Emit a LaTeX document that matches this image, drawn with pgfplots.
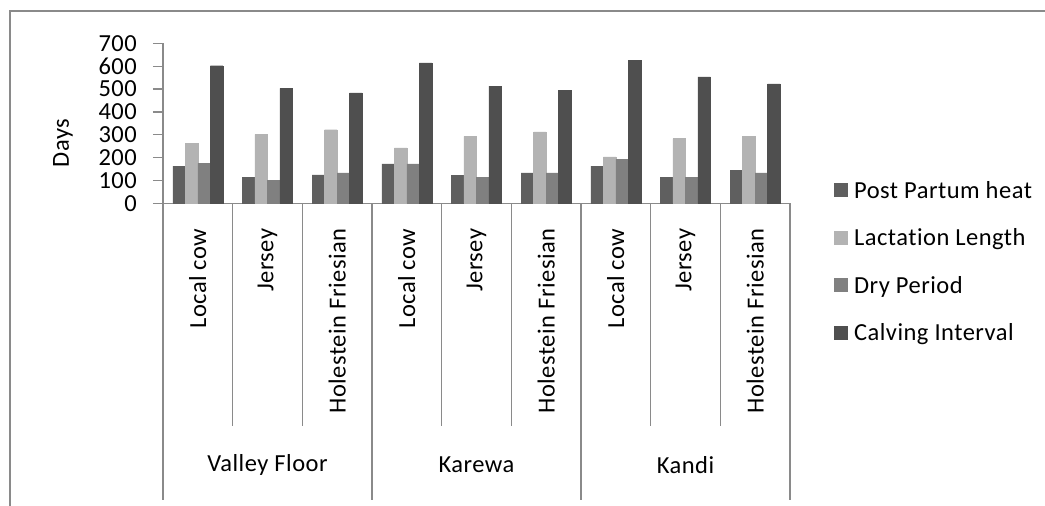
\documentclass[border=0pt]{standalone}
\usepackage{fontspec}
\setmainfont{Carlito}[LetterSpace=2, Ligatures=NoCommon]
\usepackage{pgfplots}
\pgfplotsset{compat=1.18}
\usepackage{pgfplotstable}

\definecolor{cPPH}{HTML}{5F5F5F}
\definecolor{cLL}{HTML}{B3B3B3}
\definecolor{cDP}{HTML}{808080}
\definecolor{cCI}{HTML}{4F4F4F}
\definecolor{axgray}{HTML}{8A8A8A}

% x = category slot (3 breeds in 3 zones)
\pgfplotstableread{
x   pph  ll   dp   ci
0.5 163  262  175  602
1.5 112  302  101  503
2.5 124  322  133  483
3.5 172  243  172  614
4.5 122  293  112  513
5.5 133  312  133  493
6.5 163  203  192  624
7.5 112  283  112  553
8.5 143  293  133  523
}\cowdata

\newcommand\lbl{\fontsize{24.5}{28}\selectfont}

\begin{document}
\begin{tikzpicture}
\draw[axgray, line width=1.3pt] (10pt,0pt) -- (10pt,495pt) -- (1046pt,495pt);
\begin{axis}[
    at={(163pt,302.7pt)}, anchor=south west,
    scale only axis, width=627pt, height=160pt,
    xmin=0, xmax=9, ymin=0, ymax=700,
    clip=false,
    axis lines*=left,
    axis line style={axgray, line width=1.3pt},
    ybar=0pt, bar width=12.5pt,
    ytick={0,100,...,700},
    xtick={0.5,1.5,...,8.5},
    xticklabels={Local cow,Jersey,Holestein Friesian,Local cow,Jersey,Holestein Friesian,Local cow,Jersey,Holestein Friesian},
    tick align=outside, major tick length=10pt,
    ytick style={axgray, line width=1.3pt},
    xtick style={draw=none},
    tick label style={font=\lbl},
    /pgf/number format/assume math mode=true,
    yticklabel style={inner sep=0pt, xshift=-16pt},
    xticklabel style={yshift=-15pt, rotate=90, anchor=east, inner sep=0pt},
    ylabel={Days},
    ylabel style={font=\lbl, at={(axis description cs:-0.1595,0.377)}, anchor=center},
    legend style={draw=none, fill=none, font=\lbl, at={(axis description cs:1.07,-0.365)}, anchor=west,
        row sep=25pt, inner sep=0pt, nodes={inner sep=2pt}},
    legend cell align=left,
    legend image code/.code={\path[#1, draw=none] (0pt,-7pt) rectangle (14pt,7pt);},
]
\addplot[fill=cPPH, draw=cPPH] table[x=x, y=pph] {\cowdata};
\addplot[fill=cLL, draw=cLL] table[x=x, y=ll] {\cowdata};
\addplot[fill=cDP, draw=cDP] table[x=x, y=dp] {\cowdata};
\addplot[fill=cCI, draw=cCI] table[x=x, y=ci] {\cowdata};
\legend{\hspace{4pt}Post Partum heat, \hspace{4pt}Lactation Length, \hspace{4pt}Dry Period, \hspace{4pt}Calving Interval}

\pgfplotsinvokeforeach{1,2,4,5,7,8}{
  \draw[axgray, line width=1.3pt] (axis cs:#1,0) -- ++(0pt,-222.4pt);
}
\pgfplotsinvokeforeach{0,3,6,9}{
  \draw[axgray, line width=1.3pt] (axis cs:#1,0) -- ++(0pt,-296.7pt);
}
\path (axis cs:1.5,0) ++(0pt,-261.7pt) node[font=\lbl] {Valley Floor};
\path (axis cs:4.5,0) ++(0pt,-261.7pt) node[font=\lbl] {Karewa};
\path (axis cs:7.5,0) ++(0pt,-261.7pt) node[font=\lbl] {Kandi};
\end{axis}
\pgfresetboundingbox
\path[use as bounding box] (0pt,0pt) rectangle (1045pt,506pt);
\end{tikzpicture}
\end{document}
